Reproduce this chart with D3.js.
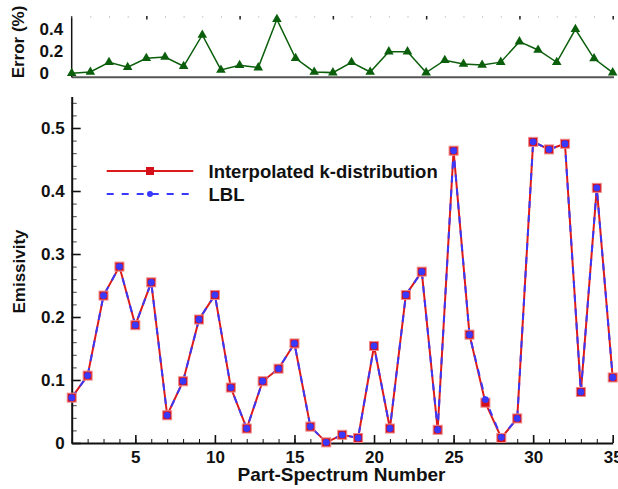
<!DOCTYPE html>
<html>
<head>
<meta charset="utf-8">
<script src="https://cdn.jsdelivr.net/npm/d3@7"></script>
<style>
  body { margin: 0; background: #fff; }
  text { font-family: "Liberation Sans", Arial, Helvetica, sans-serif; font-weight: bold; fill: #111; }
</style>
</head>
<body>
<svg id="chart" width="618" height="489"></svg>
<script>
// part-spectrum numbers
var parts = [1,2,3,4,5,6,7,8,9,10,11,12,13,14,15,16,17,18,19,20,21,22,23,24,25,26,27,28,29,30,31,32,33,34,35];
var kdist = [0.072,0.107,0.234,0.280,0.187,0.255,0.044,0.098,0.196,0.235,0.088,0.023,0.098,0.118,0.158,0.026,0.001,0.013,0.008,0.154,0.023,0.235,0.272,0.021,0.464,0.172,0.064,0.008,0.039,0.478,0.466,0.475,0.081,0.405,0.104];
var lbl   = [0.072,0.107,0.234,0.280,0.187,0.255,0.044,0.098,0.196,0.235,0.088,0.023,0.098,0.118,0.158,0.026,0.001,0.013,0.008,0.154,0.023,0.235,0.272,0.021,0.464,0.172,0.069,0.009,0.039,0.478,0.466,0.475,0.081,0.405,0.104];
// error panel
var errParts = [1,2,3,4,5,6,7,8,9,10,11,12,13,14,15,16,17,18,19,20,21,22,23,24,25,26,27,28,29,30];
var errors = [0,0.012,0.099,0.054,0.135,0.146,0.063,0.344,0.030,0.072,0.051,0.484,0.135,0.012,0.006,0.099,0.012,0.194,0.194,0.006,0.117,0.084,0.075,0.100,0.284,0.209,0.099,0.395,0.132,0.006];
var emisTicks = [0,0.1,0.2,0.3,0.4,0.5];
var errTicks = [0,0.2,0.4];
var xTicks = [5,10,15,20,25,30,35];
var errXTicks = [5,10,15,20,25,30];

var svg = d3.select("#chart");
var red = "#dd1a1a", blue = "#3838ff", green = "#0b5e0b";

// ---------- main panel ----------
var x = d3.scaleLinear().domain([1, 35]).range([71.7, 612.7]);
var y = d3.scaleLinear().domain([0, 0.55]).range([443, 96.5]);

var main = svg.append("g");

// minor x ticks
main.append("g")
  .attr("transform", "translate(0,443)")
  .call(d3.axisBottom(x).tickValues(parts).tickSize(-4).tickFormat(""))
  .call(function (g) { g.select(".domain").remove(); })
  .selectAll("line").attr("stroke", "#111").attr("stroke-width", 1);

var xAxis = main.append("g")
  .attr("transform", "translate(0,443)")
  .call(d3.axisBottom(x).tickValues(xTicks).tickSize(-8).tickSizeOuter(0).tickPadding(8));
xAxis.select(".domain").attr("stroke", "#111").attr("stroke-width", 2);
xAxis.selectAll("line").attr("stroke", "#111").attr("stroke-width", 1.6);
xAxis.selectAll("text").style("font-size", "17px");

// minor y ticks
var minorY = d3.range(0, 0.551, 0.02);
main.append("g")
  .attr("transform", "translate(71.7,0)")
  .call(d3.axisLeft(y).tickValues(minorY).tickSize(-5).tickFormat(""))
  .call(function (g) { g.select(".domain").remove(); })
  .selectAll("line").attr("stroke", "#111").attr("stroke-width", 0.8);

var yAxis = main.append("g")
  .attr("transform", "translate(71.7,0)")
  .call(d3.axisLeft(y).tickValues(emisTicks).tickSize(-9).tickSizeOuter(0).tickPadding(7)
    .tickFormat(function (d) { return d === 0 ? "0" : d3.format(".1f")(d); }));
yAxis.select(".domain").attr("stroke", "#111").attr("stroke-width", 2);
yAxis.selectAll("line").attr("stroke", "#111").attr("stroke-width", 1.6);
yAxis.selectAll("text").style("font-size", "17px");

var line = d3.line().x(function (d, i) { return x(parts[i]); }).y(function (d) { return y(d); });

main.append("path").datum(kdist)
  .attr("d", line).attr("fill", "none").attr("stroke", red).attr("stroke-width", 2);
main.append("path").datum(lbl)
  .attr("d", line).attr("fill", "none").attr("stroke", blue).attr("stroke-width", 2)
  .attr("stroke-dasharray", "7,7");

main.selectAll(".sq").data(kdist).enter().append("rect")
  .attr("class", "sq")
  .attr("x", function (d, i) { return x(parts[i]) - 4.5; })
  .attr("y", function (d) { return y(d) - 4.5; })
  .attr("width", 9).attr("height", 9)
  .attr("fill", "#d4111b").attr("stroke", "#f08a8a").attr("stroke-width", 1);

main.selectAll(".dot").data(lbl).enter().append("circle")
  .attr("class", "dot")
  .attr("cx", function (d, i) { return x(parts[i]); })
  .attr("cy", function (d) { return y(d); })
  .attr("r", 3.4).attr("fill", blue);

// legend
var lg = main.append("g");
lg.append("line").attr("x1", 106.7).attr("x2", 193.3).attr("y1", 171).attr("y2", 171)
  .attr("stroke", red).attr("stroke-width", 2);
lg.append("rect").attr("x", 146).attr("y", 167).attr("width", 8).attr("height", 8).attr("fill", "#d4111b");
lg.append("text").attr("x", 208.5).attr("y", 177.5).style("font-size", "18.5px").text("Interpolated k-distribution");
lg.append("line").attr("x1", 106.7).attr("x2", 193.3).attr("y1", 194).attr("y2", 194)
  .attr("stroke", blue).attr("stroke-width", 2).attr("stroke-dasharray", "7,8");
lg.append("circle").attr("cx", 150).attr("cy", 194).attr("r", 3).attr("fill", blue);
lg.append("text").attr("x", 208.5).attr("y", 200.5).style("font-size", "18.5px").text("LBL");

// axis titles
svg.append("text").attr("x", 341.5).attr("y", 481).attr("text-anchor", "middle")
  .style("font-size", "19px").text("Part-Spectrum Number");
svg.append("text").attr("transform", "translate(25,271.5) rotate(-90)").attr("text-anchor", "middle")
  .style("font-size", "17px").text("Emissivity");

// ---------- error panel ----------
var ex = d3.scaleLinear().domain([1, 30]).range([71.7, 612.7]);
var ey = d3.scaleLinear().domain([-0.036, 0.514]).range([77.3, 16]);

var errPanel = svg.append("g");

errPanel.append("line").attr("x1", 71.7).attr("x2", 614).attr("y1", ey(-0.036)).attr("y2", ey(-0.036))
  .attr("stroke", "#555").attr("stroke-width", 2);
errPanel.append("line").attr("x1", 71.7).attr("x2", 71.7).attr("y1", ey(0.514)).attr("y2", ey(-0.036))
  .attr("stroke", "#111").attr("stroke-width", 1.5);

errPanel.append("g")
  .attr("transform", "translate(0," + ey(0.514) + ")")
  .call(d3.axisTop(ex).tickValues(errParts).tickSize(-2).tickFormat(""))
  .call(function (g) { g.select(".domain").remove(); })
  .selectAll("line").attr("stroke", "#ccc").attr("stroke-width", 1);
errPanel.append("g")
  .attr("transform", "translate(0," + ey(0.514) + ")")
  .call(d3.axisTop(ex).tickValues(errXTicks).tickSize(-3.5).tickFormat(""))
  .call(function (g) { g.select(".domain").remove(); })
  .selectAll("line").attr("stroke", "#222").attr("stroke-width", 1.5);

errPanel.selectAll(".etick").data(errTicks).enter().append("text")
  .attr("class", "etick")
  .attr("x", 39.5).attr("y", function (d) { return ey(d); }).attr("dy", "0.36em")
  .style("font-size", "17px")
  .text(function (d) { return d === 0 ? "0" : d3.format(".1f")(d); });

var eline = d3.line().x(function (d, i) { return ex(errParts[i]); }).y(function (d) { return ey(d); });
errPanel.append("path").datum(errors).attr("d", eline)
  .attr("fill", "none").attr("stroke", green).attr("stroke-width", 1.5);

errPanel.selectAll(".tri").data(errors).enter().append("path")
  .attr("class", "tri")
  .attr("transform", function (d, i) { return "translate(" + ex(errParts[i]) + "," + ey(d) + ")"; })
  .attr("d", d3.symbol().type(d3.symbolTriangle).size(40))
  .attr("fill", green);

svg.append("text").attr("transform", "translate(24,42) rotate(-90)").attr("text-anchor", "middle")
  .style("font-size", "17px").text("Error (%)");
</script>
</body>
</html>
